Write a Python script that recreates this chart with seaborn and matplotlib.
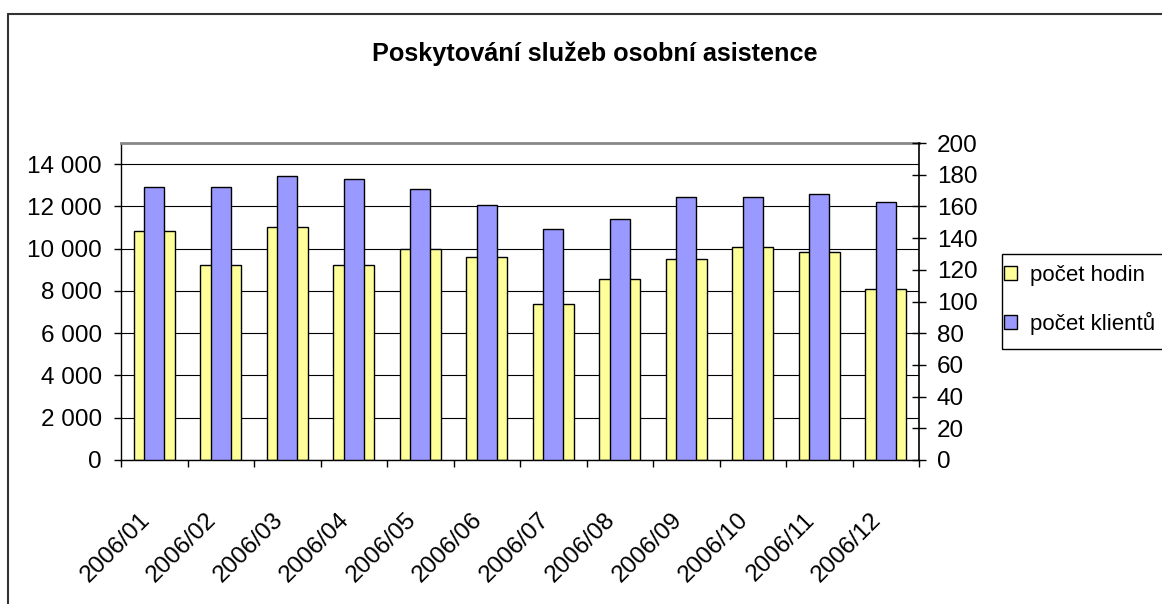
import numpy as np
import pandas as pd
import matplotlib
matplotlib.use('Agg')
import matplotlib.pyplot as plt
import matplotlib.ticker as mticker
from matplotlib.patches import Patch, Rectangle
from matplotlib.lines import Line2D
import seaborn as sns

months = ['2006/01', '2006/02', '2006/03', '2006/04', '2006/05', '2006/06',
          '2006/07', '2006/08', '2006/09', '2006/10', '2006/11', '2006/12']
hours = [10820, 9250, 11020, 9250, 10000, 9620, 7380, 8550, 9510, 10090, 9840, 8070]
clients = [172, 172, 179, 177, 171, 161, 146, 152, 166, 166, 168, 163]

title = 'Poskytování služeb osobní asistence'
label_hours = 'počet hodin'
label_clients = 'počet klientů'

yellow = '#FFFF99'
blue = '#9999FF'

sns.set_theme(style='white')
plt.rcParams['font.family'] = ['Liberation Sans', 'DejaVu Sans']
plt.rcParams['text.color'] = 'black'
plt.rcParams['xtick.color'] = 'black'
plt.rcParams['ytick.color'] = 'black'
plt.rcParams['xtick.labelcolor'] = 'black'
plt.rcParams['ytick.labelcolor'] = 'black'
fs = 17.5

df = pd.DataFrame({'month': months, 'hours': hours, 'clients': clients})

W, H = 1162, 604
fig = plt.figure(figsize=(W / 100, H / 100), dpi=100)
ax = fig.add_axes([121 / W, 1 - 460 / H, (919 - 121) / W, (460 - 143) / H])

sns.barplot(data=df, x='month', y='hours', ax=ax, color=yellow, saturation=1,
            width=0.62, edgecolor='black', linewidth=1, errorbar=None, zorder=2)
ax2 = ax.twinx()
sns.barplot(data=df, x='month', y='clients', ax=ax2, color=blue, saturation=1,
            width=0.30, edgecolor='black', linewidth=1, errorbar=None, zorder=2)

ax.set_xlim(-0.5, len(months) - 0.5)
ax.set_ylim(0, 15000)
ax2.set_ylim(0, 200)
ax.set_xlabel('')
ax.set_ylabel('')
ax2.set_xlabel('')
ax2.set_ylabel('')

# y axes
ax.set_yticks(np.arange(0, 14001, 2000))
ax.yaxis.set_major_formatter(mticker.FuncFormatter(lambda v, p: f'{int(v):,}'.replace(',', ' ')))
ax.tick_params(axis='y', direction='out', length=5, width=1, pad=8.6,
               labelsize=fs, colors='black', left=True)
ax2.set_yticks(np.arange(0, 201, 20))
ax2.tick_params(axis='y', direction='inout', length=9.4, width=1, pad=8,
                labelsize=fs, colors='black', right=True)

# x axis: labels at centers, ticks at boundaries
ax.set_xticks(np.arange(len(months)))
ax.set_xticklabels(months, rotation=45, ha='right', va='top')
ax.set_xticks(np.arange(-0.5, len(months), 1), minor=True)
ax.tick_params(axis='x', which='major', length=0, pad=35, labelsize=fs, colors='black')
ax.tick_params(axis='x', which='minor', direction='out', length=5, width=1,
               bottom=True, color='black')

ax.yaxis.grid(True, color='black', linewidth=0.8)
ax.set_axisbelow(True)

for s in ['left', 'bottom']:
    ax.spines[s].set_color('black')
    ax.spines[s].set_linewidth(1)
ax.spines['top'].set_color('#888888')
ax.spines['top'].set_linewidth(2)
ax.spines['right'].set_visible(False)
for s in ['left', 'bottom', 'top']:
    ax2.spines[s].set_visible(False)
ax2.spines['right'].set_color('black')
ax2.spines['right'].set_linewidth(1.2)

fig.text(595 / W, 1 - 61 / H, title, ha='center', va='baseline',
         fontsize=18.2, fontweight='bold', color='black')

# legend
handles = [Patch(facecolor=yellow, edgecolor='black', linewidth=1, label=label_hours),
           Patch(facecolor=blue, edgecolor='black', linewidth=1, label=label_clients)]
fig.legend(handles=handles, loc='upper left', bbox_to_anchor=(1004 / W, 1 - 265 / H),
           frameon=False, borderpad=0, borderaxespad=0, handlelength=0.6,
           handleheight=0.6, handletextpad=0.55, labelspacing=1.15, fontsize=16)
fig.add_artist(Rectangle((1002 / W, 1 - 349 / H), 0.2, 95 / H, transform=fig.transFigure,
                         fill=False, edgecolor='black', linewidth=1))

# outer chart frame
fig.add_artist(Line2D([8 / W, 8 / W], [-0.1, 1 - 14 / H], transform=fig.transFigure,
                      color='#333333', linewidth=1.5))
fig.add_artist(Line2D([8 / W, 1.1], [1 - 14 / H, 1 - 14 / H], transform=fig.transFigure,
                      color='#333333', linewidth=1.5))

fig.savefig('out.png', dpi=100)
